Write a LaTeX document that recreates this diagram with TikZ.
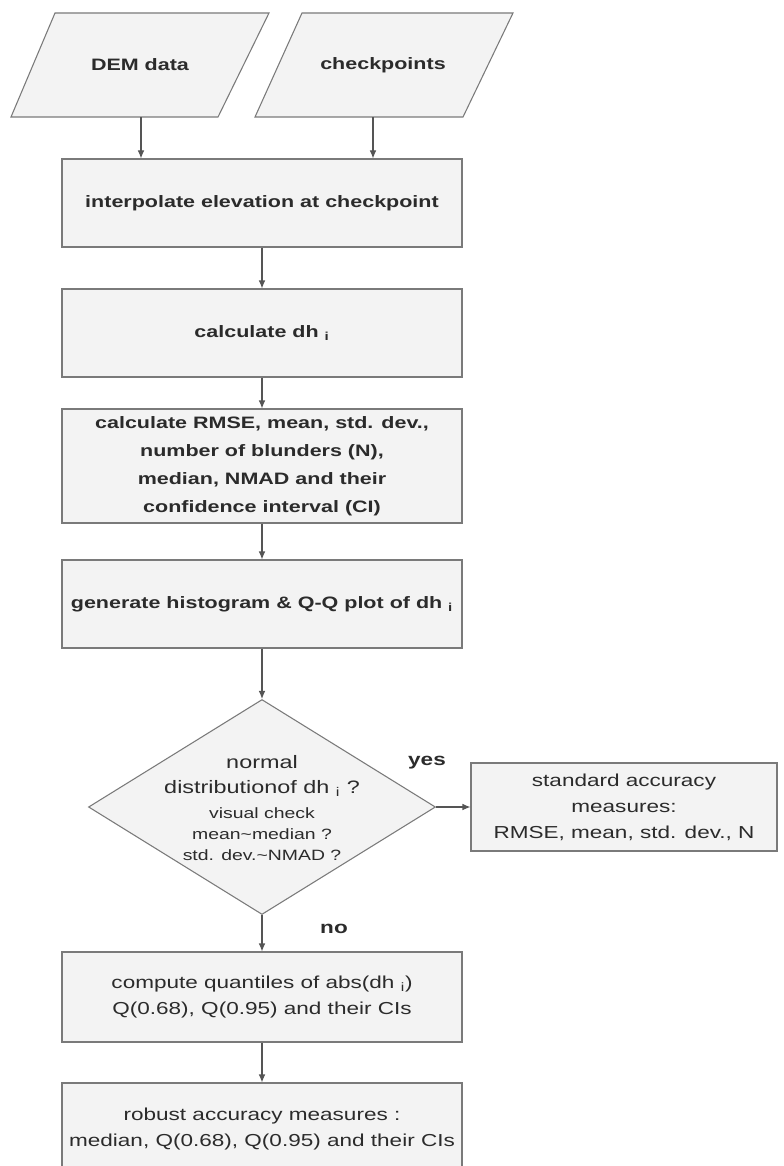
\documentclass[tikz,border=0pt]{standalone}
\usepackage{fontspec}
\setmainfont{Liberation Sans}[FakeStretch=1.3]
\usetikzlibrary{arrows.meta,shapes.geometric}
\definecolor{boxfill}{HTML}{F3F3F3}
\definecolor{boxline}{HTML}{7A7A7A}
\definecolor{txt}{HTML}{2B2B2B}
\definecolor{arrline}{HTML}{555555}
\begin{document}
\begin{tikzpicture}[x=0.75pt,y=-0.75pt,
  shapeline/.style={draw=boxline,fill=boxfill,line width=0.8pt},
  box/.style={shapeline,inner sep=0pt,minimum width=300pt,align=center,text=txt},
  boldtxt/.style={font=\bfseries\fontsize{12.4}{21}\selectfont},
  regtxt/.style={font=\fontsize{13}{19.5}\selectfont},
  dectxt/.style={font=\fontsize{11.2}{16}\selectfont,align=center,text=txt,inner sep=0pt},
  arr/.style={draw=arrline,line width=0.8pt,-{Latex[length=6pt,width=5pt]}},
  lbl/.style={font=\bfseries\fontsize{13}{15}\selectfont,text=txt,inner sep=0pt}]
\clip (0,0) rectangle (783,1166);
\fill[white] (0,0) rectangle (783,1166);
% input parallelograms
\draw[shapeline] (55,13) -- (269,13) -- (218,117) -- (11,117) -- cycle;
\node[boldtxt,text=txt,inner sep=0pt,minimum height=78pt] (dem) at (140,65) {DEM data};
\draw[shapeline] (302,13) -- (513,13) -- (463,117) -- (255,117) -- cycle;
\node[boldtxt,text=txt,inner sep=0pt,minimum height=78pt] (chk) at (383,65) {checkpoints};
% process boxes
\node[box,boldtxt,minimum height=66pt] (interp) at (262,203) {interpolate elevation at checkpoint};
\node[box,boldtxt,minimum height=66pt] (calc) at (262,333) {calculate dh \textsubscript{i}};
\node[box,boldtxt,minimum height=85.5pt] (rmse) at (262,466) {calculate RMSE, mean, std. dev.,\\ number of blunders (N),\\ median, NMAD and their\\ confidence interval (CI)};
\node[box,boldtxt,minimum height=66pt] (hist) at (262,604) {generate histogram \& Q-Q plot of dh \textsubscript{i}};
% decision
\node[shapeline,diamond,inner sep=0pt,minimum width=260.25pt,minimum height=161.25pt] (dec) at (262,807) {};
\node[dectxt] (dectext) at ([yshift=-1pt]dec.center) {{\fontsize{13.5}{16}\selectfont normal}\\[2.8pt] {\fontsize{13.5}{16}\selectfont distributionof dh \textsubscript{i} ?}\\[2.5pt] visual check\\ mean\textasciitilde median ?\\ std. dev.\textasciitilde NMAD ?};
\node[box,regtxt,minimum width=229.5pt,minimum height=66pt] (std) at (624,807) {standard accuracy\\ measures:\\ RMSE, mean, std. dev., N};
\node[box,regtxt,minimum height=67.5pt] (comp) at (262,997) {compute quantiles of abs(dh \textsubscript{i})\\ Q(0.68), Q(0.95) and their CIs};
\node[box,regtxt,minimum height=69pt] (rob) at (262,1129) {robust accuracy measures :\\ median, Q(0.68), Q(0.95) and their CIs};
% labels
\node[lbl] (yes) at (427,763) {yes};
\node[lbl] (no) at (334,929) {no};
% connectors
\draw[arr] ([xshift=0.75pt]dem.south) -- ([xshift=0.75pt]dem.south |- interp.north);
\draw[arr] ([xshift=-7.5pt]chk.south) -- ([xshift=-7.5pt]chk.south |- interp.north);
\draw[arr] (interp) -- (calc);
\draw[arr] (calc) -- (rmse);
\draw[arr] (rmse) -- (hist);
\draw[arr] (hist) -- (dec.north);
\draw[arr] (dec.east) -- (std.west);
\draw[arr] (dec.south) -- (comp.north);
\draw[arr] (comp) -- (rob);
\end{tikzpicture}
\end{document}
